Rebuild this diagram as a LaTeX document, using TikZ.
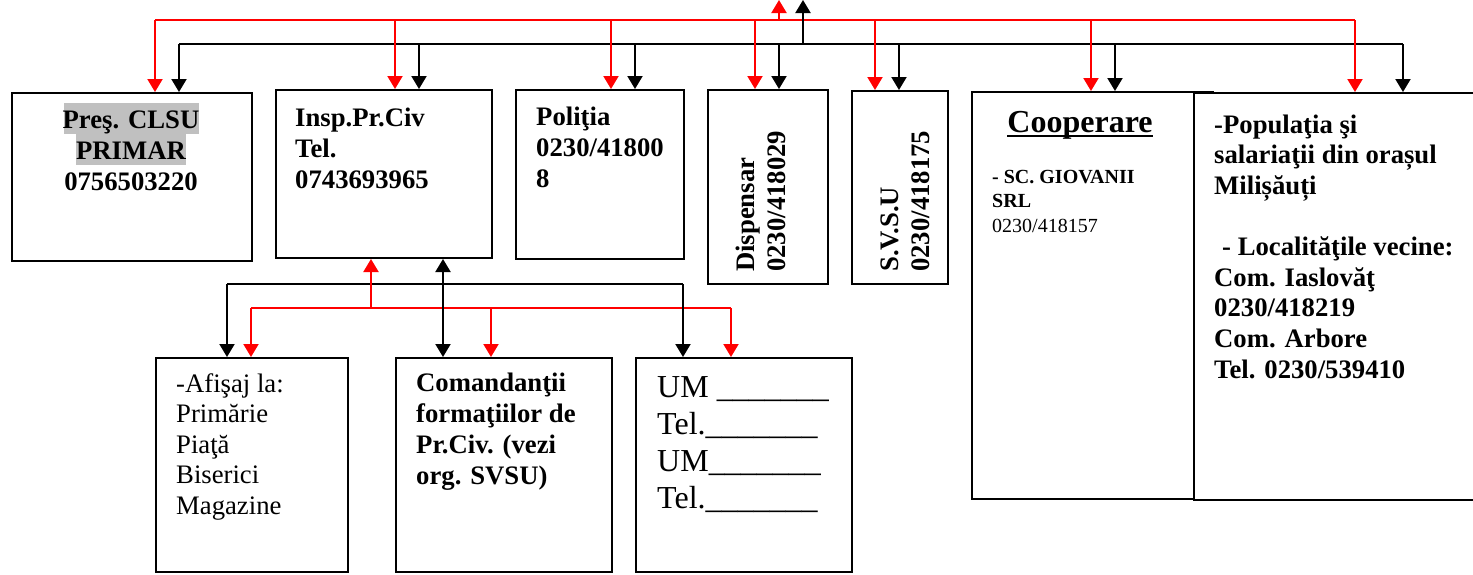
\documentclass[tikz,border=0pt]{standalone}
\usepackage{fontspec}
\setmainfont{Liberation Serif}
\usetikzlibrary{arrows.meta}
\definecolor{hl}{HTML}{C0C0C0}
\definecolor{rd}{HTML}{FF0000}
\tikzset{
  box/.style={draw, line width=2pt, fill=white, inner sep=0pt, anchor=north west},
  bus/.style={line width=2pt},
  arr/.style={line width=2pt, -{Triangle[width=15pt,length=13pt]}},
  darr/.style={line width=2pt, {Triangle[width=15pt,length=13pt]}-{Triangle[width=15pt,length=13pt]}},
  bf/.style={font=\fontsize{26.7}{31}\selectfont\bfseries, inner sep=0pt, align=left},
  rg/.style={font=\fontsize{26.7}{30.5}\selectfont, inner sep=0pt, align=left},
}
\begin{document}
\begin{tikzpicture}[x=1pt,y=-1pt]
\useasboundingbox (0,0) rectangle (1473,574);
% boxes
\node[box, minimum width=240pt, minimum height=168pt] (b1) at (11,92) {};
\node[box, minimum width=216pt, minimum height=168pt] (b2) at (275,89) {};
\node[box, minimum width=168pt, minimum height=169pt] (b3) at (515,89) {};
\node[box, minimum width=120pt, minimum height=194pt] (b4) at (707,89) {};
\node[box, minimum width=96pt, minimum height=193pt] (b5) at (851,90) {};
\node[box, minimum width=241pt, minimum height=407pt] (b6) at (971,91) {};
\node[box, minimum width=290pt, minimum height=407pt] (b7) at (1193,92) {};
\node[box, minimum width=192pt, minimum height=214pt] (b8) at (155,357) {};
\node[box, minimum width=216pt, minimum height=214pt] (b9) at (395,357) {};
\node[box, minimum width=216pt, minimum height=214pt] (b10) at (635,357) {};
% highlight
\fill[hl] (64,103) rectangle (199,134);
\fill[hl] (76,134) rectangle (186,165);
% texts (base anchor = baseline of the last line)
\node[bf, align=center, anchor=base] (t1) at (131,190) {Preş. CLSU\\PRIMAR\\0756503220};
\node[bf, anchor=base west] (t2) at (295,188) {Insp.Pr.Civ\\Tel.\\0743693965};
\node[bf, anchor=base west] (t3) at (536,187) {Poliţia\\0230/41800\\8};
\node[bf, rotate=90, anchor=base west] (t4) at (785,272) {Dispensar\\0230/418029};
\node[bf, rotate=90, anchor=base west] (t5) at (929,272) {S.V.S.U\\0230/418175};
\node[font=\fontsize{32}{36}\selectfont\bfseries, inner sep=0pt, anchor=base] (t6) at (1080,132) {Cooperare};
\draw[line width=2.5pt] ([yshift=-4pt]t6.base west) -- ([yshift=-4pt]t6.base east);
\node[font=\fontsize{20}{24.5}\selectfont, inner sep=0pt, align=left, anchor=base west] (t7) at (992,232) {\textbf{- SC. GIOVANII}\\\textbf{SRL}\\0230/418157};
\node[font=\fontsize{26.7}{30.6}\selectfont\bfseries, inner sep=0pt, align=left, anchor=base west] (t8) at (1214,378) {-Populaţia şi\\salariaţii din orașul\\Milișăuți\\\mbox{}\\\hspace{8pt}- Localităţile vecine:\\Com. Iaslovăţ\\0230/418219\\Com. Arbore\\Tel. 0230/539410};
\node[rg, anchor=base west] (t9) at (176,514) {-Afişaj la:\\Primărie\\Piaţă\\Biserici\\Magazine};
\node[bf, anchor=base west] (t10) at (416,484) {Comandanţii\\formaţiilor de\\Pr.Civ. (vezi\\org. SVSU)};
\node[font=\fontsize{32}{37}\selectfont, inner sep=0pt, align=left, anchor=base west] (t11) at (657,508) {UM \_\_\_\_\_\_\_\\Tel.\_\_\_\_\_\_\_\\UM\_\_\_\_\_\_\_\\Tel.\_\_\_\_\_\_\_};
% top bus coordinates
\coordinate (rtop) at (779,0); \coordinate (rhub) at (779,20);
\coordinate (ktop) at (803,0); \coordinate (khub) at (803,44);
\foreach \i/\x in {1/155,2/395,3/611,4/755,5/875,6/1091,7/1355} {\coordinate (r\i) at (\x,20);}
\foreach \i/\x in {1/179,2/419,3/635,4/779,5/899,6/1115,7/1403} {\coordinate (k\i) at (\x,44);}
\draw[bus, rd] (r1) -- (r7);
\draw[bus] (k1) -- (k7);
\draw[arr] (khub) -- (ktop);
\draw[arr, rd] (rhub) -- (rtop);
\foreach \i in {1,...,7} {
  \draw[arr] (k\i) -- (k\i |- b\i.north);
  \draw[arr, rd] (r\i) -- (r\i |- b\i.north);
}
% bottom group
\coordinate (bk1) at (227,284); \coordinate (bk2) at (683,284);
\coordinate (dx) at (443,284);
\coordinate (br1) at (251,308); \coordinate (br2) at (731,308);
\coordinate (brhub) at (371,308); \coordinate (brc) at (491,308);
\draw[bus] (bk1) -- (bk2);
\draw[bus, rd] (br1) -- (br2);
\draw[arr] (bk1) -- (bk1 |- b8.north);
\draw[arr] (bk2) -- (bk2 |- b10.north);
\draw[darr] (dx |- b2.south) -- (dx |- b9.north);
\draw[arr, rd] (brhub) -- (brhub |- b2.south);
\draw[arr, rd] (br1) -- (br1 |- b8.north);
\draw[arr, rd] (brc) -- (brc |- b9.north);
\draw[arr, rd] (br2) -- (br2 |- b10.north);
\end{tikzpicture}
\end{document}
